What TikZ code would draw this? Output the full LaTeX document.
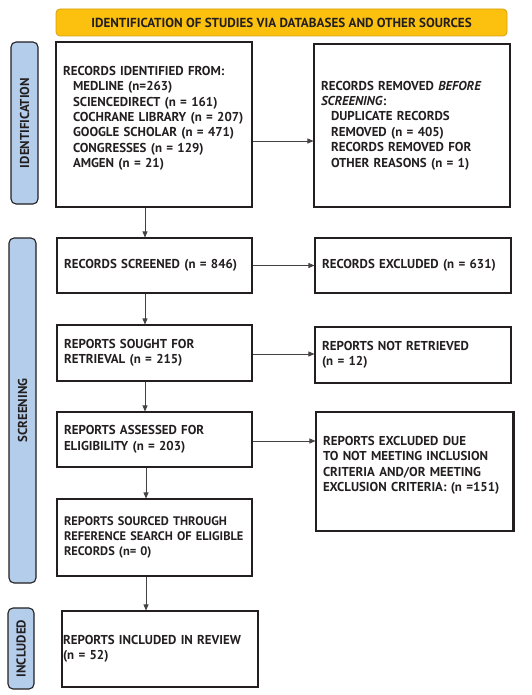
\documentclass[tikz,border=0pt]{standalone}
\usepackage{fontspec}
\setmainfont{PT Sans}
\usetikzlibrary{arrows.meta}
\definecolor{hdrfill}{HTML}{FCC10F}
\definecolor{hdrdraw}{HTML}{D9A010}
\definecolor{sidefill}{HTML}{B3CDEB}
\definecolor{ink}{HTML}{231F20}
\tikzset{
  stagebox/.style={draw=ink, line width=1.1pt, minimum width=#1, text width=#1-14pt, align=left, inner sep=0pt, font=\bfseries\fontsize{12.9}{15.4}\selectfont, text=ink},
  stagebox/.default=196pt,
  sidebar/.style={draw=ink, line width=1.1pt, fill=sidefill, rounded corners=5pt, inner sep=0pt, font=\bfseries\fontsize{12.9}{15}\selectfont, text=ink},
  arr/.style={draw=ink!85, line width=0.7pt, -{Triangle[length=6pt,width=5pt]}},
}
\begin{document}
\begin{tikzpicture}[x=1pt,y=-1pt]
\useasboundingbox (0,0) rectangle (531,695);
% header
\node[draw=hdrdraw, line width=0.8pt, fill=hdrfill, rounded corners=4pt, minimum width=451pt, minimum height=27pt, inner sep=0pt, font=\bfseries\fontsize{13.1}{15}\selectfont, text=ink] (hdr) at (281.5,22.5) {IDENTIFICATION OF STUDIES VIA DATABASES AND OTHER SOURCES};
% side bars
\node[sidebar, minimum width=162pt, minimum height=27pt, rotate=90] (sid) at (24.5,123) {IDENTIFICATION};
\node[sidebar, minimum width=345pt, minimum height=27pt, rotate=90] (sscr) at (22.5,410.5) {SCREENING};
\node[sidebar, minimum width=81pt, minimum height=26pt, rotate=90] (sinc) at (21,648.5) {INCLUDED};
% boxes
\node[stagebox, minimum height=165pt] (b1) at (154,124.5) {RECORDS IDENTIFIED FROM:\\
\hspace*{10pt}MEDLINE (n=263)\\
\hspace*{10pt}SCIENCEDIRECT (n = 161)\\
\hspace*{10pt}COCHRANE LIBRARY (n = 207)\\
\hspace*{10pt}GOOGLE SCHOLAR (n = 471)\\
\hspace*{10pt}CONGRESSES (n = 129)\\
\hspace*{10pt}AMGEN (n = 21)\\ \mbox{}};
\node[stagebox, minimum height=163pt] (b2) at (412,125.5) {RECORDS REMOVED \textit{BEFORE}\\
\textit{SCREENING}:\\
\hspace*{10pt}DUPLICATE RECORDS\\
\hspace*{10pt}REMOVED (n = 405)\\
\hspace*{10pt}RECORDS REMOVED FOR\\
\hspace*{10pt}OTHER REASONS (n = 1)};
\node[stagebox=195pt, minimum height=55pt] (b3) at (154.5,265.5) {RECORDS SCREENED (n = 846)};
\node[stagebox, minimum height=55pt] (b4) at (413,265.5) {RECORDS EXCLUDED (n = 631)};
\node[stagebox=195pt, minimum height=56pt] (b5) at (154.5,353) {REPORTS SOUGHT FOR\\ RETRIEVAL (n = 215)};
\node[stagebox, minimum height=56pt] (b6) at (413,355) {REPORTS NOT RETRIEVED\\ (n = 12)};
\node[stagebox=195pt, minimum height=55pt] (b7) at (154.5,439.5) {REPORTS ASSESSED FOR\\ ELIGIBILITY (n = 203)};
\node[stagebox=197pt, minimum height=119pt] (b8) at (414.5,471.5) {REPORTS EXCLUDED DUE\\ TO NOT MEETING INCLUSION\\ CRITERIA AND/OR MEETING\\ EXCLUSION CRITERIA: (n =151)\\ \mbox{}};
\draw[ink, line width=3pt] ([xshift=-0.5pt]b8.north east) -- ([xshift=-0.5pt]b8.south east);
\node[stagebox=195pt, minimum height=77pt, font=\bfseries\fontsize{12.4}{15.4}\selectfont] (b9) at (154.5,537.5) {REPORTS SOURCED THROUGH\\ \mbox{REFERENCE SEARCH OF ELIGIBLE}\\ RECORDS (n= 0)};
\node[stagebox, text width=194pt, minimum height=76pt] (b10) at (160,649) {REPORTS INCLUDED IN REVIEW\\ (n = 52)};
% connectors
\draw[arr] (b1.east |- 0,141) -- (b2.west |- 0,141);
\draw[arr] (b3.east |- 0,265.5) -- (b4.west |- 0,265.5);
\draw[arr] (b5.east |- 0,354) -- (b6.west |- 0,354);
\draw[arr] (b7.east |- 0,441) -- (b8.west |- 0,441);
\draw[arr] (b1.south -| 145,0) -- (b3.north -| 145,0);
\draw[arr] (b3.south -| 145,0) -- (b5.north -| 145,0);
\draw[arr] (b5.south -| 145,0) -- (b7.north -| 145,0);
\draw[arr] (b7.south -| 146,0) -- (b9.north -| 146,0);
\draw[arr] (b9.south -| 146,0) -- (b10.north -| 146,0);
\end{tikzpicture}
\end{document}
